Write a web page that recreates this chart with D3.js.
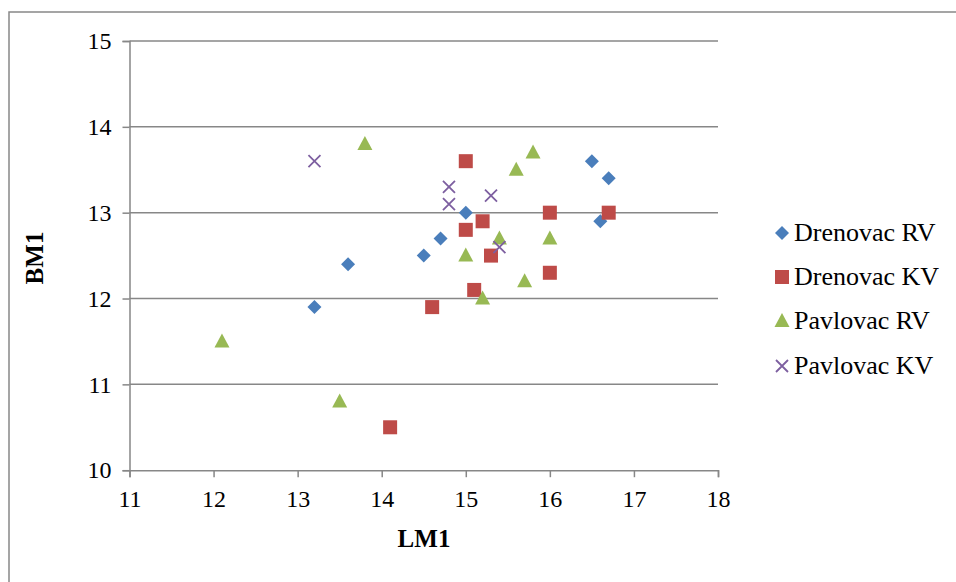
<!DOCTYPE html>
<html><head><meta charset="utf-8">
<script src="https://cdn.jsdelivr.net/npm/d3@7"></script>
<style>body{margin:0;background:#fff}svg{display:block}svg text{font-family:"Liberation Serif","Times New Roman",serif}</style>
</head><body>
<script>
const seriesNames = ["Drenovac RV","Drenovac KV","Pavlovac RV","Pavlovac KV"];
const drenovacRV = [[13.2,11.9],[13.6,12.4],[14.5,12.5],[14.7,12.7],[15.0,13.0],[16.5,13.6],[16.7,13.4],[16.6,12.9]];
const drenovacKV = [[15.0,13.6],[15.0,12.8],[15.2,12.9],[15.3,12.5],[15.1,12.1],[14.6,11.9],[14.1,10.5],[16.0,13.0],[16.0,12.3],[16.7,13.0]];
const pavlovacRV = [[12.1,11.5],[13.5,10.8],[13.8,13.8],[15.8,13.7],[15.6,13.5],[15.4,12.7],[15.0,12.5],[15.2,12.0],[15.7,12.2],[16.0,12.7]];
const pavlovacKV = [[13.2,13.6],[14.8,13.3],[14.8,13.1],[15.3,13.2],[15.4,12.6]];
const xTicks = [11,12,13,14,15,16,17,18];
const yTicks = [10,11,12,13,14,15];
const colors = ["#4a7ebb","#be4b48","#98b954","#7d5fa0"];
const symbols = ["diamond","square","triangle","x"];

const W = 956, H = 582;
const svg = d3.select("body").append("svg").attr("width", W).attr("height", H);
svg.append("rect").attr("x",9).attr("y",12).attr("width",W+10).attr("height",H+10)
  .attr("fill","#fff").attr("stroke","#888").attr("stroke-width",1.5);

const x = d3.scaleLinear().domain([11,18]).range([129.5,718]);
const y = d3.scaleLinear().domain([10,15]).range([470.2,41]);
const font = "Liberation Serif";

svg.append("g").selectAll("line").data(yTicks.filter(v=>v>10)).join("line")
  .attr("x1",x(11)).attr("x2",x(18)).attr("y1",d=>y(d)).attr("y2",d=>y(d))
  .attr("stroke","#878787").attr("stroke-width",1.5);

const xAxis = svg.append("g").attr("transform",`translate(0,${y(10)})`)
  .call(d3.axisBottom(x).tickValues(xTicks).tickSize(7).tickPadding(13).tickFormat(d3.format("d")));
const yAxis = svg.append("g").attr("transform",`translate(${x(11)},0)`)
  .call(d3.axisLeft(y).tickValues(yTicks).tickSize(7).tickPadding(11).tickFormat(d3.format("d")));
[xAxis,yAxis].forEach(a=>{
  a.attr("font-family",font).attr("font-size",24);
  a.select(".domain").attr("stroke","#878787").attr("stroke-width",1.5);
  a.selectAll(".tick line").attr("stroke","#878787").attr("stroke-width",1.5);
  a.selectAll("text").style("font-family",font).style("font-size","24px").attr("fill","#000");
});

svg.append("text").attr("x",424).attr("y",547).attr("text-anchor","middle")
  .style("font-family",font).attr("font-weight","bold").style("font-size","25px").text("LM1");
svg.append("text").attr("transform","translate(43,258) rotate(-90)").attr("text-anchor","middle")
  .style("font-family",font).attr("font-weight","bold").style("font-size","25px").text("BM1");

function drawMarker(g, type, color){
  if(type==="diamond"){
    g.append("path").attr("d","M0,-7L7,0L0,7L-7,0Z").attr("fill",color);
  } else if(type==="square"){
    g.append("rect").attr("x",-7).attr("y",-7).attr("width",14).attr("height",14).attr("fill",color);
  } else if(type==="triangle"){
    g.append("path").attr("d","M0,-8L7.5,6L-7.5,6Z").attr("fill",color);
  } else {
    g.append("path").attr("d","M-6,-6L6,6M-6,6L6,-6").attr("stroke",color).attr("stroke-width",1.8).attr("fill","none");
  }
}

const allData = [drenovacRV, drenovacKV, pavlovacRV, pavlovacKV];
allData.forEach((data,i)=>{
  data.forEach(d=>{
    const g = svg.append("g").attr("transform",`translate(${x(d[0])},${y(d[1])})`);
    drawMarker(g, symbols[i], colors[i]);
  });
});

const legY = [233,277,321,366];
seriesNames.forEach((n,i)=>{
  const g = svg.append("g").attr("transform",`translate(782,${legY[i]})`);
  drawMarker(g, symbols[i], colors[i]);
  svg.append("text").attr("x",794).attr("y",legY[i]+8).style("font-family",font)
    .style("font-size","26px").attr("fill","#000").text(n);
});
</script>
</body></html>
